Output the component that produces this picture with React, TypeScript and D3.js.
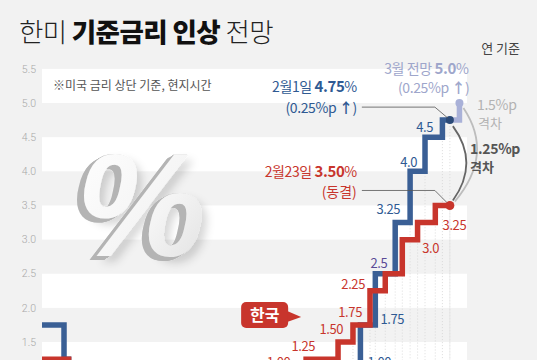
import React from 'react'
import * as d3 from 'd3'

const width = 537
const height = 360

// 기준금리 변경일과 금리 (%), 미국은 상단 기준
const usDates = ['2020-01-01', '2020-03-03', '2020-03-16', '2022-03-17', '2022-05-05', '2022-06-16', '2022-07-28', '2022-09-22', '2022-11-03', '2022-12-15', '2023-02-02', '2023-02-23']
const usRates = [1.75, 1.25, 0.25, 0.5, 1.0, 1.75, 2.5, 3.25, 4.0, 4.5, 4.75, 4.75]
const krDates = ['2020-01-01', '2020-03-16', '2020-05-28', '2021-08-26', '2021-11-25', '2022-01-14', '2022-04-14', '2022-05-26', '2022-07-13', '2022-08-25', '2022-10-12', '2022-11-24', '2023-01-13', '2023-02-23']
const krRates = [1.25, 0.75, 0.5, 0.75, 1.0, 1.25, 1.5, 1.75, 2.25, 2.5, 3.0, 3.25, 3.5, 3.5]
// 3월 전망
const fcDates = ['2023-02-23', '2023-03-22']
const fcRates = [4.75, 5.0]

const yTicks = [1.5, 2.0, 2.5, 3.0, 3.5, 4.0, 4.5, 5.0, 5.5]

// step labels: index into the series + text
const usLabelIdx = [4, 5, 6, 7, 8, 9]
const usLabelText = ['1.00', '1.75', '2.5', '3.25', '4.0', '4.5']
const krLabelIdx = [4, 5, 6, 7, 8, 10, 11]
const krLabelText = ['1.00', '1.25', '1.50', '1.75', '2.25', '3.0', '3.25']

const BLUE = '#3a5f95'
const BLUE_TXT = '#2f5a93'
const RED = '#c8352c'
const LAV = '#a9b1d8'
const KR_FONT = '"Noto Sans CJK KR", "Noto Sans", sans-serif'

const parse = d3.utcParse('%Y-%m-%d')
const toPts = (dates: string[], rates: number[]): [Date, number][] =>
  dates.map((d, i) => [parse(d) as Date, rates[i]])

// label nudges (anchor, dx, dy) relative to the step corner
const usNudge: [string, number, number][] = [
  ['start', 22, -9], ['start', 20, -1], ['end', 12, -6], ['end', 5, -9], ['end', 7, -4], ['end', 8, -5]
]
const krNudge: [string, number, number][] = [
  ['end', 2, -9], ['end', 9, -8], ['end', 5, -8], ['end', 9, -8], ['end', -5, -2], ['start', 20, 13], ['start', 25, 7]
]

export default function App() {
  const x = d3.scaleUtc()
    .domain([parse('2020-01-01') as Date, parse('2023-04-01') as Date])
    .range([42, 463])
  const y = d3.scaleLinear().domain([0, 5.5]).range([444.5, 68.9])

  const us = toPts(usDates, usRates)
  const kr = toPts(krDates, krRates)
  const fc = toPts(fcDates, fcRates)

  const line = d3.line<[Date, number]>()
    .curve(d3.curveStepAfter)
    .x(d => x(d[0]))
    .y(d => y(d[1]))

  const bandX0 = 42
  const bandX1 = 467

  // 현재 시점 점
  const bx = x(us[us.length - 1][0]), by = y(us[us.length - 1][1])
  const rx = x(kr[kr.length - 1][0]), ry = y(kr[kr.length - 1][1])
  const fx = x(fc[1][0]), fy = y(fc[1][1])

  // dotted guides at each rate change since 2022
  const cut = parse('2022-03-01') as Date
  const guides = [...us, ...kr].filter(d => d[0] >= cut)

  // extrusion steps for the big %
  const ext = d3.range(1, 10)

  return (
    <svg width={width} height={height} style={{ position: 'absolute', left: 0, top: 0 }}
      fontFamily={KR_FONT}>
      <defs>
        <linearGradient id="pctFace" x1="0" y1="0" x2="1" y2="1">
          <stop offset="0%" stopColor="#ffffff" />
          <stop offset="60%" stopColor="#f4f4f4" />
          <stop offset="100%" stopColor="#dedede" />
        </linearGradient>
        <filter id="pct3d" x="-20%" y="-20%" width="140%" height="150%">
          {ext.map(i => (
            <feOffset key={i} in="SourceAlpha" dx={-i * 0.8} dy={i * 0.45} result={'o' + i} />
          ))}
          <feMerge result="extAlpha">
            {ext.map(i => <feMergeNode key={i} in={'o' + i} />)}
          </feMerge>
          <feFlood floodColor="#b4b4b4" result="extCol" />
          <feComposite in="extCol" in2="extAlpha" operator="in" result="extrude" />
          <feGaussianBlur in="SourceAlpha" stdDeviation="4" result="blur" />
          <feOffset in="blur" dx="5" dy="6" result="blurOff" />
          <feFlood floodColor="#000" floodOpacity="0.16" result="shCol" />
          <feComposite in="shCol" in2="blurOff" operator="in" result="shadow" />
          <feMerge>
            <feMergeNode in="shadow" />
            <feMergeNode in="extrude" />
            <feMergeNode in="SourceGraphic" />
          </feMerge>
        </filter>
      </defs>
      <rect width={width} height={height} fill="#f2f2f2" />

      {/* bands */}
      {yTicks.filter(t => t % 1 === 0.5).map(t => (
        <rect key={t} x={bandX0} width={bandX1 - bandX0} y={y(t)} height={y(t - 0.5) - y(t)} fill="#ffffff" />
      ))}

      {/* y axis labels */}
      {yTicks.map(t => (
        <text key={t} x={36} y={y(t)} dy="0.35em" textAnchor="end" fontSize={10.5}
          fontFamily="Roboto, 'Noto Sans', sans-serif" fontWeight={300} fill="#a8a8a8">{d3.format('.1f')(t)}</text>
      ))}

      {/* title */}
      <text x={19} y={42} fontSize={26.5} fill="#222" letterSpacing={-0.6}>
        <tspan fontWeight={300}>한미 </tspan>
        <tspan fontWeight={800} fill="#111">기준금리 인상 </tspan>
        <tspan fontWeight={300}>전망</tspan>
      </text>
      <text x={520} y={53} fontSize={13} textAnchor="end" fill="#444">연 기준</text>
      <text x={53} y={90} fontSize={12} fill="#555">※미국 금리 상단 기준, 현지시간</text>

      {/* big % */}
      <text x={141} y={256} fontFamily="'Liberation Sans', Arial, sans-serif" fontWeight={700}
        fontStyle="italic" fontSize={146} textAnchor="middle" fill="url(#pctFace)" filter="url(#pct3d)">%</text>

      {/* dotted guides */}
      {guides.map((d, i) => (
        <line key={i} x1={x(d[0])} x2={x(d[0])} y1={y(d[1]) + 3} y2={height}
          stroke="#d4d4d4" strokeWidth={0.8} strokeDasharray="1 2" />
      ))}

      {/* step lines */}
      <path d={line(fc) || ''} fill="none" stroke={LAV} strokeWidth={5.5} strokeLinejoin="miter" />
      <path d={line(us) || ''} fill="none" stroke={BLUE} strokeWidth={5.5} strokeLinejoin="miter" />
      <path d={line(kr) || ''} fill="none" stroke={RED} strokeWidth={5.5} strokeLinejoin="miter" />

      {/* gap arcs */}
      <path d={`M${fx + 4},${fy + 5} Q${fx + 35},${(fy + ry) / 2} ${rx + 5},${ry - 4}`}
        fill="none" stroke="#bdbdbd" strokeWidth={1.8} />
      <path d={`M${bx + 3},${by + 6} Q${bx + 30},${(by + ry) / 2} ${rx + 3},${ry - 5}`}
        fill="none" stroke="#666" strokeWidth={1.8} />

      {/* dots */}
      <circle cx={fx} cy={fy} r={4} fill={LAV} />
      <circle cx={bx} cy={by} r={4} fill="#2b4a78" />
      <circle cx={rx} cy={ry} r={4.5} fill={RED} />

      {/* step labels */}
      <g fontSize={13} letterSpacing={-0.4}>
        {usLabelIdx.map((idx, i) => (
          <text key={'u' + i} x={x(us[idx][0]) + usNudge[i][1]} y={y(us[idx][1]) + usNudge[i][2]}
            textAnchor={usNudge[i][0]} fill={usLabelText[i] === '2.5' ? '#5b4a96' : BLUE_TXT}>{usLabelText[i]}</text>
        ))}
        {krLabelIdx.map((idx, i) => (
          <text key={'k' + i} x={x(kr[idx][0]) + krNudge[i][1]} y={y(kr[idx][1]) + krNudge[i][2]}
            textAnchor={krNudge[i][0]} fill={RED}>{krLabelText[i]}</text>
        ))}
      </g>

      {/* annotations */}
      <path d={`M${bx - 88},${by - 13} H${bx - 15} L${bx - 2},${by - 2}`} fill="none" stroke="#555" strokeWidth={0.8} />
      <text x={bx - 93} y={by - 28} textAnchor="end" fill={BLUE_TXT} fontSize={14} letterSpacing={-0.4}>
        <tspan>2월1일 </tspan><tspan fontWeight={700} fontSize={15}>4.75</tspan><tspan>%</tspan>
      </text>
      <text x={bx - 93} y={by - 7} textAnchor="end" fill={BLUE_TXT} fontSize={14} letterSpacing={-0.4}>
        (0.25%p <tspan fontWeight={700}>↑</tspan>)
      </text>

      <path d={`M${rx - 88},${ry - 15} H${rx - 15} L${rx - 3},${ry - 3}`} fill="none" stroke="#555" strokeWidth={0.8} />
      <text x={rx - 93} y={ry - 28} textAnchor="end" fill={RED} fontSize={14} letterSpacing={-0.4}>
        <tspan>2월23일 </tspan><tspan fontWeight={700} fontSize={15}>3.50</tspan><tspan>%</tspan>
      </text>
      <text x={rx - 93} y={ry - 8} textAnchor="end" fill={RED} fontSize={14}>(동결)</text>

      <text x={fx + 9} y={fy - 29} textAnchor="end" fill="#9ea6cb" fontSize={14} letterSpacing={-0.4}>
        <tspan>3월 전망 </tspan><tspan fontWeight={700} fontSize={15}>5.0</tspan><tspan>%</tspan>
      </text>
      <text x={fx + 10} y={fy - 10} textAnchor="end" fill="#9ea6cb" fontSize={14} letterSpacing={-0.4}>
        (0.25%p <tspan fontWeight={700}>↑</tspan>)
      </text>

      <text x={477} y={110} fontSize={14} fill="#b3b3b3" letterSpacing={-0.3}>1.5%p</text>
      <text x={478} y={128} fontSize={13} fill="#b3b3b3">격차</text>
      <text x={470} y={154} fontSize={14} fill="#555" fontWeight={700} letterSpacing={-0.3}>1.25%p</text>
      <text x={470} y={172} fontSize={13} fill="#555" fontWeight={700}>격차</text>

      {/* 한국 badge */}
      <g transform={`translate(${x(parse('2021-07-15') as Date)},${y(1.75)})`}>
        <rect x={0} y={-23} width={47} height={26} rx={5} fill={RED} />
        <path d="M46,-14 L60,-8 L46,-3 Z" fill={RED} />
        <text x={23.5} y={-4} textAnchor="middle" fill="#fff" fontSize={16} fontWeight={700}>한국</text>
      </g>
    </svg>
  )
}
